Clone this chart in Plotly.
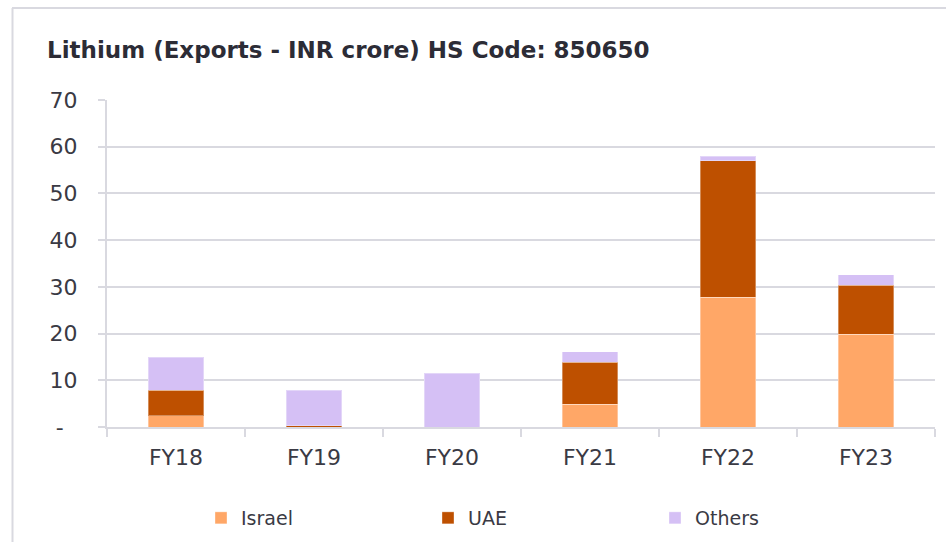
import plotly.graph_objects as go

# Export values, INR crore, HS code 850650
years = ["FY18", "FY19", "FY20", "FY21", "FY22", "FY23"]
israel = [2.4, 0.0, 0.0, 4.9, 27.8, 19.9]
uae = [5.5, 0.3, 0.0, 9.0, 29.2, 10.4]
others = [7.0, 7.6, 11.5, 2.2, 1.0, 2.3]

y_ticks = [0, 10, 20, 30, 40, 50, 60, 70]
y_tick_text = ["-\u00a0\u00a0", "10", "20", "30", "40", "50", "60", "70"]

GRID = "#d9d9e0"
TEXT = "#3a3a44"
FONT = "DejaVu Sans"

fig = go.Figure()
for name, vals, color in [
    ("Israel", israel, "#FFA767"),
    ("UAE", uae, "#BE5000"),
    ("Others", others, "#D5C0F5"),
]:
    fig.add_trace(go.Bar(
        name=name, x=years, y=vals,
        marker=dict(color=color, line=dict(color="rgba(255,255,255,0.35)", width=1)),
    ))

# plot area spans x 107..935 px and y 100..427 px
L, R, T, B = 107, 11, 100, 115
W, H = 946, 542
pw, ph = W - L - R, H - T - B


def px(x):
    return (x - L) / pw


def py(y):
    return (H - B - y) / ph


fig.update_layout(
    width=W, height=H,
    margin=dict(l=L, r=R, t=T, b=B, autoexpand=False),
    paper_bgcolor="white", plot_bgcolor="white",
    barmode="stack", bargap=0.6,
    font=dict(family=FONT, color=TEXT),
    title=dict(
        text="<b>Lithium (Exports - INR crore) HS Code: 850650</b>",
        xref="container", yref="container",
        x=47 / W, xanchor="left", y=1 - 50 / H, yanchor="middle",
        font=dict(family=FONT, size=23, color="#2c2c36"),
    ),
    xaxis=dict(
        showline=True, linecolor=GRID, linewidth=2,
        ticks="outside", tickson="boundaries", ticklen=8, tickwidth=2, tickcolor=GRID,
        tickfont=dict(size=22, color=TEXT),
        ticklabelstandoff=10,
        showgrid=False,
    ),
    yaxis=dict(
        range=[0, 70], tickvals=y_ticks, ticktext=y_tick_text,
        showline=True, linecolor=GRID, linewidth=2,
        ticks="outside", ticklen=7, tickwidth=2, tickcolor=GRID,
        showgrid=True, gridcolor=GRID, gridwidth=2,
        zeroline=False,
        tickfont=dict(size=22, color=TEXT),
        ticklabelstandoff=16,
    ),
    legend=dict(
        orientation="h", x=px(201), xanchor="left", y=py(518), yanchor="middle",
        font=dict(size=19, color=TEXT), itemwidth=30,
        entrywidth=182, entrywidthmode="pixels", traceorder="normal",
    ),
    shapes=[
        dict(type="line", xref="paper", yref="paper", x0=px(12), x1=px(W), y0=py(8), y1=py(8),
             line=dict(color=GRID, width=2)),
        dict(type="line", xref="paper", yref="paper", x0=px(12.5), x1=px(12.5), y0=py(8), y1=py(H),
             line=dict(color=GRID, width=2)),
    ],
)

fig.write_html("out.html")
